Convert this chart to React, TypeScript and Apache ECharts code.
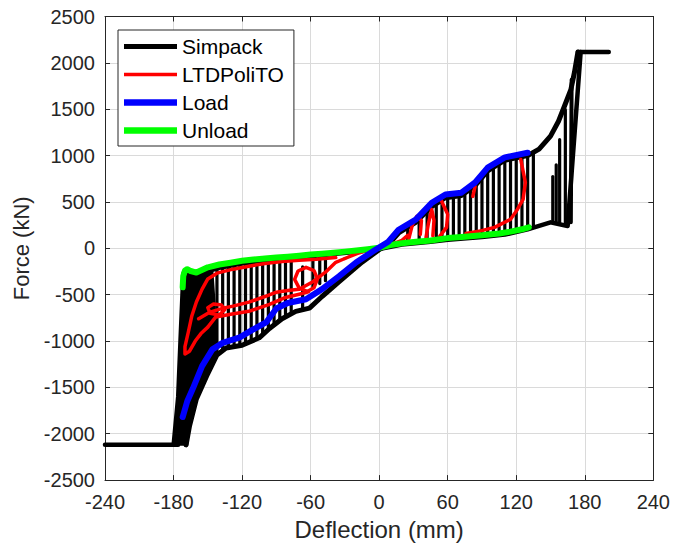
import React, { useEffect, useRef } from 'react';
import * as echarts from 'echarts';

type P = [number, number];

const FONT = 'Liberation Sans, Arial, Helvetica, sans-serif';

// Axis ranges / ticks
const xMin = -240, xMax = 240, xStep = 60;
const yMin = -2500, yMax = 2500, yStep = 500;

// ---------- Simpack (black) ----------
const simpackFloor: P[] = [[-240, -2120], [-176, -2120]];
const simpackCeiling: P[] = [[174, 2118], [201, 2118]];
// dense, fully black region at the left end
const simpackFill: P[] = [
  [-181, -2120], [-177, -1600], [-175, -1000], [-173, -420], [-171, -250],
  [-160, -270], [-146, -235], [-144, -600], [-142, -1160], [-151, -1376],
  [-160, -1624], [-166, -1914], [-168, -2120],
];
// loading envelope (below the blue curve)
const simpackLoad: P[] = [
  [-169, -2120], [-166, -1914], [-160, -1624], [-151, -1376], [-142, -1150],
  [-134, -1075], [-120, -1045], [-105, -965], [-96, -865], [-85, -760],
  [-73, -680], [-61, -645], [-50, -520], [-35, -360], [-15, -150], [0, -15],
  [8, 40], [17, 165], [32, 280], [46, 450], [58, 545], [72, 570], [84, 675],
  [95, 835], [110, 950], [130, 1000], [140, 1070], [150, 1210], [157, 1370],
  [162, 1527], [167.8, 1710], [171, 1900], [174, 2118],
];
// unloading envelope (just under the green curve) and the return at the right
const simpackUnload: P[] = [
  [-171, -260], [-160, -285], [-150, -245], [-140, -210], [-120, -165],
  [-100, -130], [-80, -108], [-60, -85], [-40, -62], [-20, -38], [0, -8],
  [20, 40], [45, 70], [60, 92], [90, 122], [110, 148], [130, 205],
  [150, 280], [165, 240], [176.4, 2118],
];
const simpackSteep: P[] = [[168.5, 1817], [167.8, 280]];
// vertical strokes: [x, top, bottom]
const simpackStrokes: [number, number, number][] = [
  [-142, -230, -1150], [-137, -220, -1090], [-132, -210, -1070], [-127, -200, -1060],
  [-122, -190, -1050], [-117, -180, -1030], [-112, -175, -1000], [-107, -168, -975],
  [-102, -162, -935], [-97, -157, -875], [-92, -152, -830], [-87, -147, -780],
  [-82, -142, -740], [-77, -137, -700], [-67, -200, -650],
  [-58, -90, -420], [-52, -80, -380], [-47, -70, -350],
  [25, 60, 230], [35, 68, 330], [42, 80, 420],
  [50, 93, 480], [55, 100, 520], [60, 110, 550], [65, 115, 560], [70, 120, 567],
  [75, 125, 595], [80, 130, 640], [85, 135, 690], [90, 140, 760], [95, 147, 835],
  [100, 153, 875], [105, 160, 910], [110, 170, 950], [115, 180, 965], [120, 192, 978],
  [125, 205, 990], [130, 224, 1000], [135, 240, 1040], [152, 280, 774],
  [155, 282, 900], [158, 275, 1172], [163, 258, 1495],
];

// ---------- LTDPoliTO (red) ----------
const ltdLoopLeft: P[] = [
  [-38, -100], [-55, -118], [-70, -128], [-85, -142], [-100, -163], [-114, -193],
  [-128, -225], [-142, -268], [-150, -330], [-155, -440], [-160, -580], [-164, -730],
  [-167, -900], [-170, -1060], [-170, -1140], [-166, -1110], [-161, -1000],
  [-156, -920], [-150, -850], [-143, -740], [-130, -712], [-114, -680], [-96, -605],
  [-82, -530], [-70, -495], [-62, -470],
];
const ltdWave: P[] = [
  [-158, -760], [-148, -688], [-138, -650], [-128, -624], [-114, -581], [-100, -520],
  [-90, -473], [-80, -455], [-70, -441], [-58, -360], [-47, -258], [-38, -151], [-30, -110],
];
const ltdSmallLoop: P[] = [
  [-150, -640], [-145, -600], [-138, -612], [-135, -660], [-140, -720], [-148, -700], [-150, -640],
];
const ltdCircle: P[] = [
  [-54, -330], [-57, -240], [-64, -205], [-71, -245], [-74, -335], [-70, -430],
  [-63, -465], [-57, -425], [-54, -330],
];
const ltdCentre: P[] = [
  [-30, -110], [-20, -60], [-10, -20], [0, 10], [10, 40], [20, 85], [25, 140],
];
const ltdRightA: P[] = [[26, 105], [29, 250], [33, 345], [37, 300], [36, 150]];
const ltdRightB: P[] = [[41, 115], [43, 260], [46, 420], [48, 300], [47, 135]];
const ltdRightC: P[] = [[54, 527], [60, 366], [59, 226], [53, 129]];
const ltdRightD: P[] = [[82, 560], [84, 667]];
const ltdRightLoop: P[] = [
  [124, 957], [128, 710], [126, 527], [121, 419], [115, 312], [101, 226], [87, 183], [76, 160],
];

// ---------- Load (blue) ----------
const loadCurve: P[] = [
  [-172, -1820], [-168, -1650], [-163, -1510], [-155, -1270], [-146, -1090],
  [-137, -1020], [-122, -960], [-111, -880], [-99, -800], [-90, -650], [-80, -590],
  [-64, -550], [-50, -440], [-35, -300], [-20, -150], [-5, -30], [8, 70], [17, 200],
  [32, 310], [46, 490], [58, 580], [72, 600], [84, 710], [95, 870], [110, 980], [130, 1030],
];

// ---------- Unload (green) ----------
const unloadCurve: P[] = [
  [-172, -420], [-171.5, -300], [-170, -240], [-168, -225], [-165, -245], [-160, -262],
  [-150, -205], [-140, -175], [-130, -155], [-120, -135], [-110, -120], [-100, -110],
  [-90, -100], [-80, -90], [-70, -80], [-60, -68], [-50, -58], [-40, -48], [-30, -36],
  [-20, -24], [-10, -10], [0, 5], [10, 35], [20, 55], [30, 68], [45, 85], [60, 110],
  [75, 125], [90, 140], [105, 160], [115, 180], [125, 205], [131, 226],
];

const lineSeries = (name: string, data: P[], color: string, width: number, z: number) => ({
  type: 'line',
  name,
  data,
  symbol: 'none',
  showSymbol: false,
  color,
  z,
  lineStyle: { color, width, cap: 'round', join: 'round' },
  emphasis: { disabled: true },
  silent: true,
});

export default function App() {
  const ref = useRef<HTMLDivElement>(null);

  useEffect(() => {
    document.body.style.margin = '0';
    if (!ref.current) return;
    const chart = echarts.init(ref.current, undefined, { renderer: 'svg' });

    const axisCommon = {
      type: 'value',
      axisLine: { show: true, onZero: false, lineStyle: { color: '#262626', width: 1 } },
      axisTick: { show: true, inside: true, length: 5, lineStyle: { color: '#262626', width: 1 } },
    };

    const option: any = {
      animation: false,
      backgroundColor: '#fff',
      textStyle: { fontFamily: FONT },
      grid: { left: 105, right: 17, top: 16.5, bottom: 64.5, containLabel: false },
      legend: {
        orient: 'vertical',
        left: 118,
        top: 30,
        backgroundColor: '#fff',
        borderColor: '#262626',
        borderWidth: 1,
        borderRadius: 0,
        padding: [6, 10, 5, 6],
        itemWidth: 53,
        itemHeight: 14,
        itemGap: 7,
        itemTextGap: 5,
        itemStyle: { borderWidth: 0 },
        selectedMode: false,
        textStyle: { fontSize: 21, color: '#000', fontFamily: FONT },
        data: [
          { name: 'Simpack', icon: 'path://M0 0H53V5H0Z' },
          { name: 'LTDPoliTO', icon: 'path://M0 0H53V3.5H0Z' },
          { name: 'Load', icon: 'path://M0 0H53V6.5H0Z' },
          { name: 'Unload', icon: 'path://M0 0H53V6.5H0Z' },
        ],
      },
      xAxis: [
        {
          ...axisCommon,
          position: 'bottom',
          min: xMin, max: xMax, interval: xStep,
          axisLabel: { fontSize: 20, color: '#262626', margin: 12, fontFamily: FONT, formatter: (v: number) => String(v) },
          splitLine: { show: true, lineStyle: { color: '#dadada', width: 1 } },
          name: 'Deflection (mm)',
          nameLocation: 'middle',
          nameGap: 36,
          nameTextStyle: { fontSize: 24, color: '#262626', fontFamily: FONT },
        },
        {
          ...axisCommon,
          position: 'top',
          min: xMin, max: xMax, interval: xStep,
          axisLabel: { show: false },
          splitLine: { show: false },
        },
      ],
      yAxis: [
        {
          ...axisCommon,
          position: 'left',
          min: yMin, max: yMax, interval: yStep,
          axisLabel: { fontSize: 20, color: '#262626', margin: 10, fontFamily: FONT, formatter: (v: number) => String(v) },
          splitLine: { show: true, lineStyle: { color: '#dadada', width: 1 } },
          name: 'Force (kN)',
          nameLocation: 'middle',
          nameGap: 70,
          nameTextStyle: { fontSize: 22, color: '#262626', fontFamily: FONT },
        },
        {
          ...axisCommon,
          position: 'right',
          min: yMin, max: yMax, interval: yStep,
          axisLabel: { show: false },
          splitLine: { show: false },
        },
      ],
      series: [
        lineSeries('Simpack', simpackFloor, '#000000', 4.5, 2),
        lineSeries('Simpack', simpackCeiling, '#000000', 4.5, 2),
        lineSeries('Simpack', simpackLoad, '#000000', 5, 2),
        lineSeries('Simpack', simpackUnload, '#000000', 4.5, 2),
        lineSeries('Simpack', simpackSteep, '#000000', 4, 2),
        {
          type: 'custom',
          name: 'Simpack',
          color: '#000000',
          z: 2,
          silent: true,
          data: [simpackFill[0]],
          renderItem: (_params: any, api: any) => ({
            type: 'polygon',
            shape: { points: simpackFill.map((p) => api.coord(p)) },
            style: { fill: '#000000', stroke: '#000000', lineWidth: 2 },
          }),
        },
        {
          type: 'custom',
          name: 'Simpack',
          color: '#000000',
          z: 2,
          silent: true,
          data: simpackStrokes,
          encode: { x: 0, y: [1, 2] },
          renderItem: (_params: any, api: any) => {
            const a = api.coord([api.value(0), api.value(1)]);
            const b = api.coord([api.value(0), api.value(2)]);
            return {
              type: 'line',
              shape: { x1: a[0], y1: a[1], x2: b[0], y2: b[1] },
              style: { stroke: '#000000', lineWidth: 3.2, lineCap: 'round' },
            };
          },
        },
        lineSeries('LTDPoliTO', ltdLoopLeft, '#ff0000', 3.5, 3),
        lineSeries('LTDPoliTO', ltdWave, '#ff0000', 3.5, 3),
        lineSeries('LTDPoliTO', ltdSmallLoop, '#ff0000', 3.5, 3),
        lineSeries('LTDPoliTO', ltdCircle, '#ff0000', 3.5, 3),
        lineSeries('LTDPoliTO', ltdCentre, '#ff0000', 3.5, 3),
        lineSeries('LTDPoliTO', ltdRightA, '#ff0000', 3.5, 3),
        lineSeries('LTDPoliTO', ltdRightB, '#ff0000', 3.5, 3),
        lineSeries('LTDPoliTO', ltdRightC, '#ff0000', 3.5, 3),
        lineSeries('LTDPoliTO', ltdRightD, '#ff0000', 3.5, 3),
        lineSeries('LTDPoliTO', ltdRightLoop, '#ff0000', 3.5, 3),
        lineSeries('Unload', unloadCurve, '#00ff00', 6, 4),
        lineSeries('Load', loadCurve, '#0000ff', 6, 5),
      ],
    };

    chart.setOption(option);
    return () => chart.dispose();
  }, []);

  return <div ref={ref} style={{ width: 673, height: 546 }} />;
}
